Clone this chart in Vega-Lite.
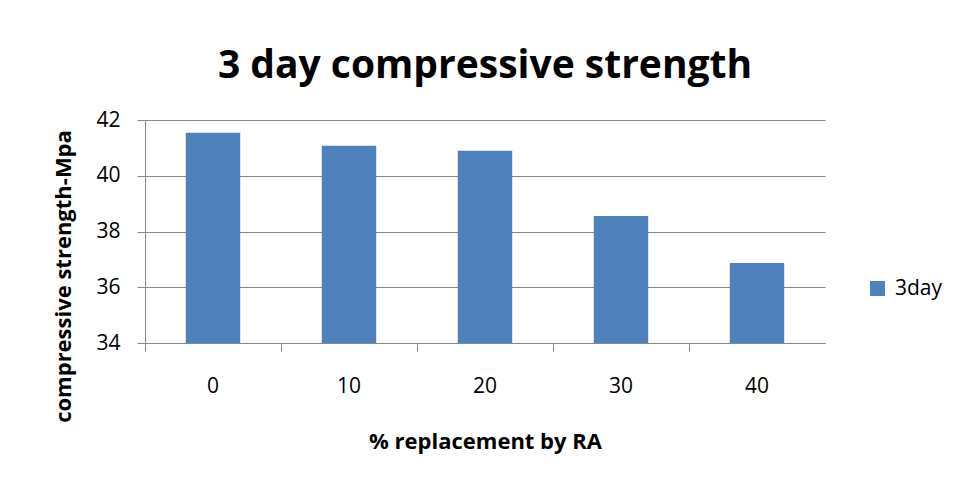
{
  "$schema": "https://vega.github.io/schema/vega-lite/v6.json",
  "width": 680,
  "height": 223,
  "autosize": "none",
  "padding": {"left": 145, "top": 120, "right": 131, "bottom": 140},
  "background": "white",
  "config": {
    "view": {"stroke": null},
    "font": "Open Sans"
  },
  "title": {
    "text": "3 day compressive strength",
    "font": "Open Sans",
    "fontSize": 39,
    "fontWeight": "bold",
    "color": "#000000",
    "anchor": "middle",
    "frame": "group",
    "baseline": "alphabetic",
    "offset": -8
  },
  "data": {
    "values": [
      {"pct": "0", "strength": 41.54, "series": "3day"},
      {"pct": "10", "strength": 41.08, "series": "3day"},
      {"pct": "20", "strength": 40.90, "series": "3day"},
      {"pct": "30", "strength": 38.56, "series": "3day"},
      {"pct": "40", "strength": 36.87, "series": "3day"}
    ]
  },
  "mark": {"type": "bar", "width": {"band": 0.4}, "clip": true},
  "encoding": {
    "x": {
      "field": "pct",
      "type": "ordinal",
      "sort": null,
      "scale": {"paddingInner": 0, "paddingOuter": 0},
      "axis": {
        "title": "% replacement by RA",
        "titleFont": "Open Sans",
        "titleFontSize": 22,
        "titleFontWeight": "bold",
        "titleColor": "#000000",
        "titleX": 340,
        "titleY": 98,
        "titleBaseline": "middle",
        "labelAngle": 0,
        "labelFont": "Open Sans",
        "labelFontSize": 21,
        "labelColor": "#000000",
        "labelPadding": 24,
        "labelBaseline": "top",
        "bandPosition": 0,
        "tickSize": 8,
        "tickColor": "#888888",
        "domainColor": "#888888",
        "grid": false
      }
    },
    "y": {
      "field": "strength",
      "type": "quantitative",
      "scale": {"domain": [34, 42], "zero": false, "nice": false},
      "axis": {
        "title": "compressive strength-Mpa",
        "titleFont": "Open Sans",
        "titleFontSize": 22,
        "titleFontWeight": "bold",
        "titleColor": "#000000",
        "titleX": -82,
        "titleY": 156,
        "titleAngle": -90,
        "titleAlign": "center",
        "titleBaseline": "middle",
        "values": [34, 36, 38, 40, 42],
        "labelFont": "Open Sans",
        "labelFontSize": 21,
        "labelColor": "#000000",
        "labelPadding": 17,
        "tickSize": 8,
        "tickColor": "#888888",
        "domainColor": "#888888",
        "grid": true,
        "gridColor": "#888888",
        "gridOpacity": 1
      }
    },
    "color": {
      "field": "series",
      "type": "nominal",
      "scale": {"domain": ["3day"], "range": ["#4F81BD"]},
      "legend": {
        "title": null,
        "orient": "none",
        "legendX": 722,
        "legendY": 158,
        "symbolType": "square",
        "symbolSize": 225,
        "symbolStrokeWidth": 0,
        "symbolOpacity": 1,
        "labelFont": "Open Sans",
        "labelFontSize": 21,
        "labelColor": "#000000",
        "labelOffset": 7,
        "padding": 0
      }
    }
  }
}
